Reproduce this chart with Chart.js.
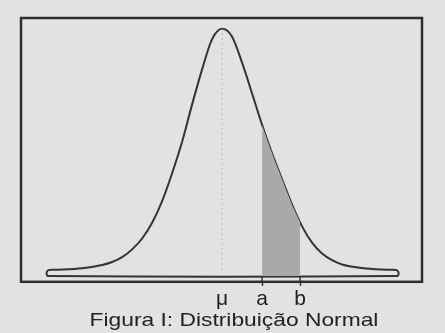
<!DOCTYPE html>
<html>
<head>
<meta charset="utf-8">
<script src="https://cdn.jsdelivr.net/npm/chart.js@4"></script>
<style>
  body { margin: 0; background: #e2e2e2; }
  #wrap { position: relative; width: 445px; height: 333px; overflow: hidden; }
  #caption {
    position: absolute; left: 0; width: 468px; top: 309px;
    text-align: center; font: 19px "Liberation Sans", Arial, sans-serif;
    color: #222; transform: scaleX(1.2); transform-origin: 234px 0;
  }
</style>
</head>
<body>
<div id="wrap">
  <canvas id="chart" width="445" height="333"></canvas>
  <div id="caption">Figura I: Distribuição Normal</div>
</div>
<script>
// curve (x in sigma units from the mean, y as density)
const curveX = [-4.35, -4.0, -3.5, -3.0, -2.75, -2.5, -2.25, -2.0, -1.75, -1.5, -1.25, -1.0, -0.75, -0.5, -0.25, 0,
                0.25, 0.5, 0.75, 1.0, 1.25, 1.5, 1.75, 2.0, 2.25, 2.5, 2.75, 3.0, 3.5, 4.0, 4.375];
const curveY = [0, 0.0006, 0.0028, 0.008, 0.013, 0.021, 0.034, 0.052, 0.078, 0.114, 0.160, 0.212, 0.274, 0.332, 0.382, 0.399,
                0.386, 0.343, 0.292, 0.240, 0.193, 0.150, 0.108, 0.072, 0.045, 0.027, 0.016, 0.009, 0.0032, 0.0007, 0];

// shaded area between a and b
const shadeX = [1.0, 1.25, 1.5, 1.75, 1.95];
const shadeY = [0.240, 0.193, 0.150, 0.108, 0.079];

const tickValues = [0, 1.0, 1.95];
const tickLabels = ['μ', 'a', 'b'];

const stripBottom = -0.01;
const frameBottom = -0.0197;

function pts(xs, ys) {
    return xs.map((x, i) => ({x: x, y: ys[i]}));
}

const framePlugin = {
    id: 'frame',
    afterDraw(chart) {
        const a = chart.chartArea;
        const ctx = chart.ctx;
        ctx.save();
        ctx.strokeStyle = '#2e2e2e';
        ctx.lineWidth = 2.5;
        ctx.strokeRect(a.left, a.top, a.right - a.left, a.bottom - a.top);
        ctx.restore();
    }
};

const ctx = document.getElementById('chart').getContext('2d');

new Chart(ctx, {
    type: 'scatter',
    data: {
        datasets: [{
            // shaded region
            data: pts(shadeX, shadeY),
            showLine: true,
            borderWidth: 0,
            borderColor: 'transparent',
            backgroundColor: '#a9a9a9',
            fill: {value: stripBottom},
            pointRadius: 0,
            cubicInterpolationMode: 'monotone'
        }, {
            // dotted line at the mean
            data: [{x: tickValues[0], y: 0}, {x: tickValues[0], y: curveY[15]}],
            showLine: true,
            borderColor: '#b8b8b8',
            borderWidth: 1,
            borderDash: [2, 3],
            pointRadius: 0
        }, {
            // the curve
            data: pts(curveX, curveY),
            showLine: true,
            borderColor: '#333',
            borderWidth: 2,
            pointRadius: 0,
            cubicInterpolationMode: 'monotone'
        }, {
            // the thin strip under the curve
            data: [{x: curveX[0], y: 0}, {x: curveX[0] - 0.04, y: stripBottom / 2}, {x: curveX[0], y: stripBottom},
                   {x: curveX[curveX.length - 1], y: stripBottom},
                   {x: curveX[curveX.length - 1] + 0.04, y: stripBottom / 2},
                   {x: curveX[curveX.length - 1], y: 0}],
            showLine: true,
            borderColor: '#333',
            borderWidth: 2,
            pointRadius: 0,
            tension: 0.4
        }, {
            data: [{x: tickValues[1], y: stripBottom}, {x: tickValues[1], y: frameBottom}],
            showLine: true,
            borderColor: '#333',
            borderWidth: 1.5,
            pointRadius: 0
        }, {
            data: [{x: tickValues[2], y: stripBottom}, {x: tickValues[2], y: frameBottom}],
            showLine: true,
            borderColor: '#333',
            borderWidth: 1.5,
            pointRadius: 0
        }]
    },
    options: {
        responsive: false,
        animation: false,
        layout: {
            padding: {left: 21, top: 18, right: 23, bottom: 20}
        },
        plugins: {
            legend: {display: false},
            tooltip: {enabled: false}
        },
        scales: {
            x: {
                type: 'linear',
                min: -5.03,
                max: 5.0,
                afterBuildTicks: axis => {
                    axis.ticks = tickValues.map(v => ({value: v}));
                },
                ticks: {
                    autoSkip: false,
                    maxRotation: 0,
                    padding: 1,
                    color: '#1e1e1e',
                    font: {family: '"Liberation Sans", Arial, sans-serif', size: 21},
                    callback: (value, index) => tickLabels[index]
                },
                grid: {
                    drawOnChartArea: false,
                    tickLength: 4,
                    tickWidth: 1.5,
                    tickColor: c => (c.tick && c.tick.value === 0) ? 'transparent' : '#333'
                },
                border: {display: false}
            },
            y: {
                display: false,
                min: -0.0197,
                max: 0.417
            }
        }
    },
    plugins: [framePlugin]
});
</script>
</body>
</html>
